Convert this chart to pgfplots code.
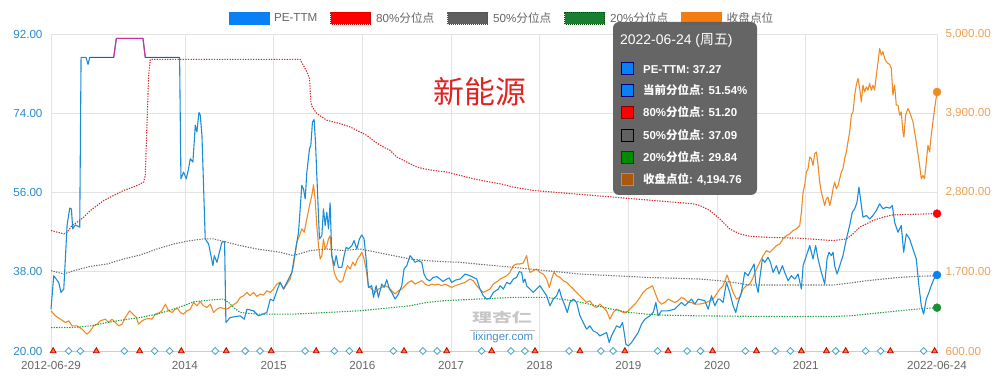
\documentclass[border=0pt]{standalone}
\usepackage{fontspec}
\setmainfont{Liberation Sans}
\newfontfamily\cjk{Noto Sans CJK SC}
\usepackage{pgfplots}
\pgfplotsset{compat=1.18}
\definecolor{peline}{HTML}{1B8DD6}
\definecolor{peswatch}{HTML}{0A80F5}
\definecolor{orline}{HTML}{F08A24}
\definecolor{orswatch}{HTML}{F57C12}
\definecolor{redline}{HTML}{D02C2C}
\definecolor{greyline}{HTML}{707070}
\definecolor{greenline}{HTML}{1E9E3E}
\definecolor{gridgrey}{HTML}{E3E3E3}
\definecolor{axisgrey}{HTML}{CCCCCC}
\definecolor{labgrey}{HTML}{666666}
\definecolor{pelab}{HTML}{2A8CCB}
\definecolor{orlab}{HTML}{F0A050}
\definecolor{tipbg}{HTML}{5F5F5F}
\definecolor{capred}{HTML}{D8143C}
\definecolor{capmag}{HTML}{CC3399}
\definecolor{diamcol}{HTML}{52A9C4}
\definecolor{trifill}{HTML}{FF7A1A}
\definecolor{triedge}{HTML}{C40000}
\definecolor{titlered}{HTML}{E02424}
\newcommand{\tf}{\fontsize{11.7}{14}\selectfont}
\begin{document}
\begin{tikzpicture}
\useasboundingbox (0,0) rectangle (999bp,385bp);
% ---------- right axis: index close ----------
\begin{axis}[at={(51bp,34bp)}, anchor=south west, scale only axis,
  width=886bp, height=317bp,
  xmin=2012.49, xmax=2022.48, ymin=600, ymax=5000, clip=false,
  axis x line*=bottom, axis y line*=right,
  x axis line style={draw=axisgrey, line width=0.8pt, -},
  y axis line style={draw=none},
  xtick={2012.49,2014,2015,2016,2017,2018,2019,2020,2021,2022.48},
  xticklabels={2012-06-29,2014,2015,2016,2017,2018,2019,2020,2021,2022-06-24},
  ytick={600,1700,2800,3900,5000},
  grid=major, major grid style={draw=gridgrey, line width=0.6pt},
  major tick length=0pt,
  xticklabel style={font=\tf, text=labgrey, yshift=-7bp},
  yticklabel style={font=\tf, text=orlab, xshift=5bp,
    /pgf/number format/.cd, fixed, fixed zerofill, precision=2, 1000 sep={,}, assume math mode=true},
]
\addplot[orline, line width=1.1pt, line join=round] coordinates {
(2012.49,1158)(2012.540,1088)(2012.596,1042)(2012.652,996)(2012.690,1019)(2012.727,949)(2012.784,949)(2012.840,903)(2012.896,833)(2012.934,880)(2012.971,949)(2013.009,972)(2013.047,1019)(2013.103,1042)(2013.140,996)(2013.178,1042)(2013.215,996)(2013.253,949)(2013.291,972)(2013.328,1065)(2013.377,1158)(2013.414,1112)(2013.452,1065)(2013.478,972)(2013.516,1019)(2013.553,1042)(2013.591,1051)(2013.629,1042)(2013.666,1112)(2013.704,1126)(2013.741,1158)(2013.779,1251)(2013.816,1158)(2013.854,1135)(2013.891,1181)(2013.918,1190)(2013.948,1135)(2013.985,1112)(2014.023,1158)(2014.060,1181)(2014.098,1274)(2014.135,1228)(2014.173,1283)(2014.210,1228)(2014.248,1204)(2014.286,1251)(2014.323,1135)(2014.361,1181)(2014.398,1204)(2014.436,1190)(2014.473,1181)(2014.530,1228)(2014.586,1274)(2014.624,1344)(2014.661,1367)(2014.699,1413)(2014.736,1367)(2014.774,1413)(2014.811,1358)(2014.849,1390)(2014.886,1376)(2014.924,1436)(2014.962,1413)(2014.999,1460)(2015.037,1529)(2015.074,1553)
(2015.112,1460)(2015.149,1529)(2015.187,1599)(2015.224,1785)(2015.262,2109)(2015.292,2202)(2015.318,2295)(2015.345,2249)(2015.375,2434)(2015.405,2620)(2015.431,2759)(2015.450,2907)(2015.468,2713)(2015.487,2341)(2015.506,2063)(2015.525,1877)(2015.544,1924)(2015.562,2155)(2015.581,2016)(2015.600,2063)(2015.619,2155)(2015.637,2202)(2015.656,1924)(2015.683,1692)(2015.713,1599)(2015.750,1553)(2015.780,1576)(2015.806,1692)(2015.833,1785)(2015.863,1738)(2015.893,1831)(2015.919,1785)(2015.945,1877)(2015.975,1924)(2015.994,1970)(2016.020,1877)(2016.043,1738)(2016.069,1506)(2016.107,1460)(2016.144,1413)(2016.182,1460)(2016.219,1483)(2016.257,1506)(2016.295,1483)(2016.332,1436)(2016.370,1390)(2016.407,1436)(2016.445,1460)(2016.482,1506)(2016.520,1553)(2016.557,1576)(2016.595,1529)(2016.633,1553)(2016.670,1576)(2016.708,1529)(2016.745,1506)(2016.783,1529)(2016.820,1515)(2016.858,1529)(2016.895,1506)(2016.933,1529)(2016.970,1506)(2017.008,1483)(2017.046,1506)(2017.102,1529)(2017.158,1553)(2017.214,1599)(2017.252,1576)(2017.290,1506)(2017.327,1460)(2017.365,1413)(2017.402,1436)(2017.440,1460)(2017.477,1529)(2017.534,1576)
(2017.553,1599)(2017.590,1622)(2017.628,1645)(2017.665,1692)(2017.703,1785)(2017.740,1808)(2017.778,1808)(2017.815,1822)(2017.853,1924)(2017.872,1785)(2017.890,1692)(2017.928,1715)(2017.966,1738)(2018.003,1692)(2018.041,1668)(2018.078,1599)(2018.108,1483)(2018.135,1599)(2018.161,1692)(2018.191,1645)(2018.228,1622)(2018.266,1576)(2018.304,1553)(2018.341,1506)(2018.379,1460)(2018.416,1413)(2018.454,1367)(2018.491,1320)(2018.529,1274)(2018.566,1297)(2018.604,1228)(2018.642,1204)(2018.679,1251)(2018.717,1204)(2018.754,1158)(2018.792,1042)(2018.829,1135)(2018.867,1181)(2018.904,1158)(2018.942,1135)(2018.979,1135)(2019.017,1181)(2019.055,1228)(2019.092,1274)(2019.130,1344)(2019.167,1413)(2019.205,1460)(2019.242,1483)(2019.272,1506)(2019.299,1413)(2019.336,1297)(2019.374,1251)(2019.411,1274)(2019.449,1320)(2019.486,1297)(2019.524,1274)(2019.561,1297)(2019.599,1344)(2019.637,1320)(2019.674,1274)(2019.712,1274)(2019.749,1251)(2019.806,1251)(2019.881,1274)(2019.956,1320)(2019.993,1390)
(2020.031,1460)(2020.068,1506)(2020.113,1655)(2020.143,1553)(2020.181,1413)(2020.219,1320)(2020.256,1344)(2020.294,1460)(2020.331,1506)(2020.369,1529)(2020.406,1622)(2020.444,1738)(2020.481,1831)(2020.519,1924)(2020.557,1993)(2020.594,1970)(2020.632,2016)(2020.669,2063)(2020.707,2086)(2020.744,2156)(2020.782,2202)(2020.819,2225)(2020.857,2272)(2020.894,2295)(2020.932,2341)(2020.951,2527)(2020.970,2805)(2020.988,2898)(2021.007,3084)(2021.026,3130)(2021.045,3293)(2021.063,3269)(2021.082,3176)(2021.101,3339)(2021.120,3362)(2021.139,3176)(2021.157,2945)(2021.176,2805)(2021.195,2713)(2021.214,2620)(2021.232,2713)(2021.251,2736)(2021.270,2620)(2021.289,2713)(2021.308,2852)(2021.326,2945)(2021.345,2852)(2021.364,2898)(2021.383,2991)(2021.401,3084)(2021.420,3130)(2021.439,3269)(2021.458,3362)(2021.476,3501)(2021.495,3640)(2021.514,3872)(2021.533,3919)(2021.552,4151)(2021.570,4290)(2021.589,4383)(2021.608,4244)(2021.627,4058)(2021.645,4290)(2021.664,4197)(2021.683,4267)(2021.702,4220)(2021.721,4313)(2021.739,4220)(2021.758,4290)(2021.777,4220)(2021.796,4429)(2021.815,4615)(2021.833,4800)(2021.852,4708)(2021.871,4754)(2021.890,4661)(2021.908,4615)(2021.927,4592)(2021.946,4578)(2021.965,4522)(2021.983,4151)(2022.002,4290)(2022.021,4012)(2022.040,4012)(2022.059,3872)(2022.077,3919)(2022.096,3640)(2022.107,3571)(2022.126,3872)(2022.152,3965)(2022.171,3919)(2022.209,3780)(2022.246,3501)(2022.284,3176)(2022.303,2991)(2022.321,3037)(2022.340,2991)(2022.359,3223)(2022.378,3455)(2022.397,3362)(2022.415,3594)(2022.434,3780)(2022.453,3965)(2022.48,4194.76)};
\addplot[only marks, mark=*, mark size=4bp, mark options={fill=orline, draw=orline}] coordinates {(2022.48,4194.76)};
\end{axis}
% ---------- left axis: PE-TTM and percentiles ----------
\begin{axis}[at={(51bp,34bp)}, anchor=south west, scale only axis,
  width=886bp, height=317bp,
  xmin=2012.49, xmax=2022.48, ymin=20, ymax=92, clip=false,
  axis x line=none, axis y line*=left,
  y axis line style={draw=none},
  ytick={20,38,56,74,92}, major tick length=0pt,
  yticklabel style={font=\tf, text=pelab, xshift=-5bp,
    /pgf/number format/.cd, fixed, fixed zerofill, precision=2, assume math mode=true},
  legend columns=5,
  legend style={at={(0.5,1)}, anchor=center, yshift=15.7bp, xshift=8bp,
    draw=none, fill=none, font=\tf, text=labgrey, inner sep=0pt,
    /tikz/every odd column/.append style={column sep=3bp},
    /tikz/every even column/.append style={column sep=11bp}},
]
\addlegendimage{legend image code/.code={\fill[peswatch] (0bp,-6bp) rectangle (40bp,6bp);}}
\addlegendentry{PE-TTM}
\addlegendimage{legend image code/.code={\draw[fill=red, draw=triedge, dash pattern=on 1bp off 1bp, line width=0.7bp] (0bp,-6bp) rectangle (40bp,6bp);}}
\addlegendentry{80\%{\cjk 分位点}}
\addlegendimage{legend image code/.code={\draw[fill=greyline!85!black, draw=black!70, dash pattern=on 1bp off 1bp, line width=0.7bp] (0bp,-6bp) rectangle (40bp,6bp);}}
\addlegendentry{50\%{\cjk 分位点}}
\addlegendimage{legend image code/.code={\draw[fill=greenline!80!black, draw=green!30!black, dash pattern=on 1bp off 1bp, line width=0.7bp] (0bp,-6bp) rectangle (40bp,6bp);}}
\addlegendentry{20\%{\cjk 分位点}}
\addlegendimage{legend image code/.code={\fill[orswatch] (0bp,-6bp) rectangle (40bp,6bp);}}
\addlegendentry{{\cjk 收盘点位}}
% 80%
\addplot[forget plot, redline, line width=1.1pt, dash pattern=on 1.3bp off 1.3bp] coordinates {
(2012.49,47.35)(2012.634,46.59)(2012.671,46.97)(2012.727,48.49)(2012.784,49.25)(2012.859,50.39)(2012.934,51.91)(2013.009,53.05)(2013.084,54.18)(2013.159,54.95)(2013.234,55.70)(2013.309,56.47)(2013.384,56.99)(2013.460,57.60)(2013.535,58.36)(2013.553,59.88)(2013.572,71.27)(2013.591,82.66)(2013.610,86.23)(2015.299,86.23)(2015.375,83.42)(2015.405,81.90)(2015.420,76.59)(2015.435,75.45)(2015.487,73.93)(2015.600,72.41)(2015.750,71.65)(2015.863,70.89)(2015.975,69.75)(2016.051,68.99)(2016.144,67.48)(2016.238,66.34)(2016.313,65.58)(2016.388,64.06)(2016.501,62.92)(2016.614,61.78)(2016.689,61.40)(2016.801,61.02)(2016.952,60.64)(2017.102,59.88)(2017.252,59.12)(2017.402,58.51)(2017.552,57.98)(2017.703,57.22)(2017.928,56.47)(2018.153,56.09)(2018.379,55.71)(2018.604,55.33)(2018.829,54.95)(2019.055,54.57)(2019.280,54.19)(2019.505,53.81)(2019.731,53.43)(2019.806,53.05)(2019.918,51.91)(2020.031,50.01)(2020.143,47.73)(2020.256,46.59)(2020.369,46.06)(2020.557,45.83)(2020.932,45.61)(2021.308,45.07)(2021.458,45.45)(2021.533,46.59)(2021.608,48.11)(2021.683,48.87)(2021.758,49.63)(2021.871,50.39)(2021.983,50.92)(2022.48,51.20)};
% 50%
\addplot[forget plot, greyline, line width=1.1pt, dash pattern=on 1.3bp off 1.3bp] coordinates {
(2012.49,38.24)(2012.634,37.48)(2012.746,38.24)(2012.934,39.23)(2013.122,39.76)(2013.309,40.90)(2013.497,41.81)(2013.685,43.18)(2013.873,44.32)(2014.060,45.07)(2014.210,45.45)(2014.323,45.45)(2014.473,44.70)(2014.624,43.94)(2014.811,43.18)(2015.074,42.42)(2015.224,41.66)(2015.412,42.80)(2015.600,43.18)(2015.788,42.80)(2015.975,43.18)(2016.163,42.42)(2016.351,41.66)(2016.539,40.90)(2016.726,40.52)(2016.914,40.29)(2017.102,40.14)(2017.290,39.76)(2017.703,39.00)(2018.078,38.24)(2018.454,37.48)(2018.829,37.10)(2019.205,36.72)(2019.580,36.49)(2019.806,36.34)(2020.031,35.96)(2020.181,35.58)(2020.369,34.98)(2021.308,34.98)(2021.495,35.43)(2021.683,35.96)(2021.871,36.34)(2022.059,36.72)(2022.246,36.95)(2022.48,37.09)};
% 20%
\addplot[forget plot, greenline, line width=1.1pt, dash pattern=on 1.3bp off 1.3bp] coordinates {
(2012.49,25.33)(2012.746,25.33)(2012.934,25.71)(2013.122,26.47)(2013.309,27.08)(2013.497,27.61)(2013.685,28.37)(2013.873,29.51)(2013.985,30.27)(2014.098,31.18)(2014.210,31.41)(2014.323,31.64)(2014.436,31.79)(2014.492,31.03)(2014.548,29.89)(2014.624,28.75)(2014.811,28.37)(2015.224,28.37)(2015.600,28.75)(2015.975,29.13)(2016.351,29.89)(2016.539,30.27)(2016.726,31.03)(2016.914,31.41)(2017.290,31.79)(2017.703,32.17)(2018.078,32.17)(2018.379,31.41)(2018.642,30.27)(2018.904,29.13)(2019.017,28.75)(2019.205,28.37)(2019.393,28.14)(2019.768,27.99)(2020.557,27.84)(2021.308,27.84)(2021.495,27.99)(2021.683,28.37)(2021.871,28.75)(2022.059,29.13)(2022.246,29.51)(2022.48,29.84)};
% PE-TTM
\addplot[forget plot, peline, line width=1.1pt, line join=round] coordinates {
(2012.49,29.51)(2012.521,37.10)(2012.577,35.58)(2012.603,33.31)(2012.634,34.07)(2012.652,40.90)(2012.671,48.49)(2012.701,52.44)(2012.720,52.29)(2012.735,47.73)(2012.765,48.64)(2012.814,48.11)(2012.829,86.68)(2012.885,86.68)(2012.908,85.09)(2012.926,86.68)(2013.197,86.68)(2013.227,91.01)(2013.527,91.01)(2013.553,86.68)(2013.940,86.68)
(2013.955,59.12)(2013.985,60.64)(2014.015,59.12)(2014.041,61.40)(2014.060,63.68)(2014.090,62.92)(2014.117,71.27)(2014.135,69.75)(2014.158,74.16)(2014.173,73.55)(2014.192,68.99)(2014.229,45.45)(2014.267,44.32)(2014.316,39.38)(2014.331,41.66)(2014.361,40.14)(2014.417,44.70)(2014.447,44.85)(2014.462,26.47)(2014.511,27.61)(2014.624,27.99)(2014.669,27.23)(2014.699,29.51)(2014.774,29.13)(2014.830,27.99)(2014.924,28.75)(2014.962,31.79)(2014.999,31.41)(2015.044,34.07)(2015.074,35.58)
(2015.112,34.07)(2015.149,35.58)(2015.206,37.86)(2015.243,42.42)(2015.281,46.97)(2015.318,57.60)(2015.337,56.84)(2015.356,54.57)(2015.375,60.64)(2015.405,65.96)(2015.420,66.72)(2015.438,72.03)(2015.457,72.56)(2015.472,67.48)(2015.495,56.09)(2015.517,45.45)(2015.544,46.21)(2015.562,52.29)(2015.581,48.49)(2015.600,51.53)(2015.619,47.73)(2015.637,53.66)(2015.656,41.66)(2015.683,39.38)(2015.705,41.66)(2015.731,39.00)(2015.769,39.00)(2015.795,41.66)(2015.818,43.56)(2015.844,43.18)(2015.881,43.94)(2015.908,45.07)(2015.938,43.18)(2015.968,45.45)(2015.994,46.37)(2016.020,45.45)(2016.043,40.90)(2016.069,34.45)(2016.107,34.83)(2016.126,32.17)(2016.156,34.83)(2016.182,32.17)(2016.219,35.20)(2016.246,34.45)(2016.276,36.19)(2016.306,34.07)(2016.332,33.31)(2016.370,31.79)(2016.407,32.93)(2016.445,34.83)(2016.471,38.62)(2016.501,39.38)(2016.539,41.66)(2016.569,40.90)(2016.595,40.14)(2016.633,40.52)(2016.670,40.14)(2016.696,37.48)(2016.726,36.34)(2016.76,35.90)(2016.801,36.72)(2016.84,36.90)(2016.877,36.34)(2016.91,35.80)(2016.952,36.34)(2016.98,36.60)(2017.008,35.58)(2017.05,36.10)(2017.102,36.34)(2017.158,37.48)(2017.214,37.10)(2017.290,36.34)(2017.327,34.07)(2017.365,32.55)(2017.402,31.79)(2017.440,31.94)(2017.477,33.31)(2017.534,34.07)
(2017.553,34.83)(2017.590,34.07)(2017.628,35.58)(2017.665,35.20)(2017.703,36.34)(2017.740,36.72)(2017.770,38.02)(2017.797,37.86)(2017.815,35.58)(2017.834,36.34)(2017.853,34.83)(2017.890,34.07)(2017.928,33.31)(2017.966,34.07)(2018.003,34.83)(2018.041,33.69)(2018.078,32.55)(2018.116,30.27)(2018.153,31.79)(2018.191,32.55)(2018.221,34.07)(2018.247,32.17)(2018.285,30.27)(2018.311,28.75)(2018.341,31.03)(2018.379,31.79)(2018.416,31.03)(2018.454,27.99)(2018.491,26.47)(2018.529,24.95)(2018.566,25.71)(2018.604,24.57)(2018.642,24.19)(2018.679,23.43)(2018.717,23.81)(2018.754,24.19)(2018.784,21.92)(2018.810,23.43)(2018.848,24.95)(2018.867,25.71)(2018.904,25.33)(2018.934,26.47)(2018.953,24.19)(2018.972,21.54)(2018.998,21.16)(2019.036,21.92)(2019.073,23.05)(2019.111,24.19)(2019.148,26.09)(2019.186,27.23)(2019.242,27.99)(2019.280,28.75)(2019.310,31.03)(2019.336,27.99)(2019.374,29.13)(2019.449,29.13)(2019.524,29.51)(2019.599,31.03)(2019.637,30.27)(2019.712,31.79)(2019.749,30.65)(2019.787,31.79)(2019.862,31.41)(2019.900,29.51)(2019.937,32.55)(2019.975,30.27)(2020.012,31.79)
(2020.031,31.79)(2020.068,31.03)(2020.106,35.58)(2020.143,33.31)(2020.181,30.27)(2020.211,28.75)(2020.237,31.03)(2020.275,33.31)(2020.312,37.86)(2020.350,37.10)(2020.388,38.62)(2020.418,39.76)(2020.436,35.58)(2020.463,33.31)(2020.481,36.34)(2020.511,40.90)(2020.538,40.14)(2020.575,41.28)(2020.602,40.14)(2020.632,37.86)(2020.669,39.38)(2020.699,37.48)(2020.737,39.38)(2020.763,37.86)(2020.801,35.96)(2020.838,37.10)(2020.876,36.34)(2020.913,37.48)(2020.951,34.07)(2020.970,39.38)(2021.007,41.66)(2021.045,43.94)(2021.082,40.90)(2021.112,43.94)(2021.139,40.90)(2021.176,37.86)(2021.214,35.20)(2021.240,40.90)(2021.262,42.42)(2021.289,41.66)(2021.308,42.42)(2021.326,39.38)(2021.353,37.48)(2021.383,39.38)(2021.420,41.66)(2021.458,45.45)(2021.495,48.49)(2021.525,51.53)(2021.552,52.29)(2021.578,53.81)(2021.600,57.22)(2021.627,53.05)(2021.645,50.39)(2021.683,50.77)(2021.721,50.01)(2021.758,50.77)(2021.796,51.91)(2021.833,53.43)(2021.871,52.29)(2021.908,52.67)(2021.946,52.44)(2021.976,53.05)(2022.002,49.25)(2022.040,46.97)(2022.077,48.49)(2022.104,42.42)(2022.134,46.59)(2022.171,45.45)(2022.209,43.18)(2022.246,40.90)(2022.276,34.83)(2022.303,30.27)(2022.329,28.37)(2022.359,31.79)(2022.389,33.31)(2022.415,34.83)(2022.445,36.34)(2022.48,37.27)};
% capped PE segments
\addplot[forget plot, capred, line width=1.1pt] coordinates {(2012.926,86.68)(2013.197,86.68)};
\addplot[forget plot, capmag, line width=1.1pt, line join=round] coordinates {(2013.197,86.68)(2013.227,91.01)(2013.527,91.01)(2013.553,86.68)};
\addplot[forget plot, capred, line width=1.1pt] coordinates {(2013.553,86.68)(2013.940,86.68)};
% event markers on the x axis
\addplot[forget plot, only marks, mark=square*, mark size=2.4bp, mark options={rotate=45, fill=white, draw=diamcol, line width=0.9bp}] coordinates {
(2012.689,20)(2012.821,20)(2013.317,20)(2013.658,20)(2013.827,20)(2014.342,20)(2014.680,20)(2014.849,20)(2015.356,20)(2015.686,20)(2015.855,20)(2016.351,20)(2016.682,20)(2016.843,20)(2017.346,20)(2017.676,20)(2017.834,20)(2018.333,20)(2018.690,20)(2018.829,20)(2019.329,20)(2019.662,20)(2019.813,20)(2020.320,20)(2020.658,20)(2020.827,20)(2021.338,20)(2021.676,20)(2021.844,20)(2022.329,20)};
\addplot[forget plot, only marks, mark=triangle*, mark size=3.3bp, mark options={fill=trifill, draw=triedge, line width=0.8bp}] coordinates {
(2012.514,20)(2013.001,20)(2013.489,20)(2013.959,20)(2014.466,20)(2014.973,20)(2015.480,20)(2015.968,20)(2016.471,20)(2016.952,20)(2017.459,20)(2017.947,20)(2018.454,20)(2018.961,20)(2019.448,20)(2019.949,20)(2020.444,20)(2020.951,20)(2021.233,20)(2021.450,20)(2021.954,20)(2022.453,20)};
% end points
\addplot[forget plot, only marks, mark=*, mark size=4bp, mark options={fill=red, draw=red}] coordinates {(2022.48,51.20)};
\addplot[forget plot, only marks, mark=*, mark size=4bp, mark options={fill=greenline!90!black, draw=greenline!90!black}] coordinates {(2022.48,29.84)};
\addplot[forget plot, only marks, mark=*, mark size=4bp, mark options={fill=peswatch, draw=peswatch}] coordinates {(2022.48,37.27)};
\end{axis}
% ---------- title ----------
\node[text=titlered, font=\cjk\fontsize{31}{34}\selectfont] at (480bp,293bp) {新能源};
% ---------- watermark ----------
\node[text=black!22, font=\cjk\bfseries\fontsize{20}{22}\selectfont, yscale=0.65] at (502bp,67bp) {理杏仁};
\draw[black!25, line width=0.6bp] (470bp,55bp) -- (535bp,55bp);
\node[text=diamcol!85!blue, font=\fontsize{11.5}{13}\selectfont] at (503bp,47.5bp) {lixinger.com};
% ---------- tooltip ----------
\fill[tipbg, opacity=0.96, rounded corners=6bp] (613bp,190bp) rectangle (757bp,363bp);
\node[anchor=base west, text=white, inner sep=0pt, font=\fontsize{14}{16}\selectfont] at (620bp,340bp) {2022-06-24 ({\cjk 周五})};
\begin{scope}[line width=1bp]
\filldraw[fill=peswatch, draw=blue!50!black] (621bp,310bp) rectangle (633bp,322bp);
\filldraw[fill=peswatch, draw=blue!50!black] (621bp,288.3bp) rectangle (633bp,300.3bp);
\filldraw[fill=red, draw=red!50!black] (621bp,266.3bp) rectangle (633bp,278.3bp);
\filldraw[fill=black!62, draw=black] (621bp,243.7bp) rectangle (633bp,255.7bp);
\filldraw[fill=green!55!black, draw=green!25!black] (621bp,221.7bp) rectangle (633bp,233.7bp);
\filldraw[fill=orswatch!70!black, draw=orswatch] (621bp,199.7bp) rectangle (633bp,211.7bp);
\end{scope}
\begin{scope}[every node/.style={anchor=base west, text=white, inner sep=0pt, font=\bfseries\fontsize{11.5}{13}\selectfont}]
\node at (643bp,311.8bp) {PE-TTM: 37.27};
\node at (643bp,290.1bp) {{\cjk\bfseries 当前分位点}: 51.54\%};
\node at (643bp,268.1bp) {80\%{\cjk\bfseries 分位点}: 51.20};
\node at (643bp,245.5bp) {50\%{\cjk\bfseries 分位点}: 37.09};
\node at (643bp,223.5bp) {20\%{\cjk\bfseries 分位点}: 29.84};
\node at (643bp,201.5bp) {{\cjk\bfseries 收盘点位}: 4,194.76};
\end{scope}
\end{tikzpicture}
\end{document}
